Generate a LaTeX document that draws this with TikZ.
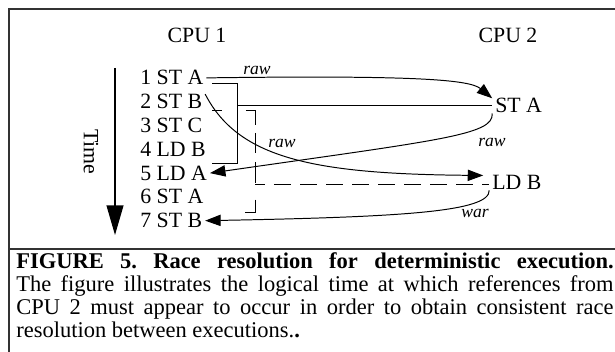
\documentclass[tikz,border=0pt]{standalone}
\usepackage{fontspec}
\setmainfont{Liberation Serif}
\usetikzlibrary{arrows.meta,calc,positioning}

\begin{document}
\begin{tikzpicture}[x=0.025cm, y=-0.025cm, every node/.style={inner sep=0pt},
  instr/.style={anchor=base west, inner xsep=2pt, font=\fontsize{15.5}{18}\selectfont},
  deplabel/.style={font=\fontsize{12.5}{14}\selectfont\itshape},
  dep/.style={line width=0.7pt, -{Triangle[length=11pt,width=8pt]}},
  frameline/.style={line width=1.5pt, black!80}]
  \useasboundingbox (0,0) rectangle (615,352);
  % frame and caption rule
  \draw[frameline] (9,352) -- (9,9) -- (615,9);
  \draw[frameline] (9,249) -- (615,249);
  % processors
  \node[anchor=base, font=\fontsize{15.5}{18}\selectfont] (cpu1) at (197,43) {CPU 1};
  \node[anchor=base, font=\fontsize{15.5}{18}\selectfont] (cpu2) at (508,43) {CPU 2};
  % logical time
  \coordinate (t0) at (115,68);
  \coordinate (t1) at (115,235);
  \draw[line width=0.8pt, -{Triangle[length=21pt,width=12pt]}] (t0) -- (t1);
  \node[rotate=-90, font=\fontsize{15.5}{18}\selectfont] (time) at (91,152) {Time};
  % CPU 1 references
  \node[instr] (i1) at (137.2,85) {1 ST A};
  \node[instr] (i2) at (137.2,108.8) {2 ST B};
  \node[instr] (i3) at (137.2,132.6) {3 ST C};
  \node[instr] (i4) at (137.2,156.4) {4 LD B};
  \node[instr] (i5) at (137.2,180.2) {5 LD A};
  \node[instr] (i6) at (137.2,204) {6 ST A};
  \node[instr] (i7) at (137.2,227.8) {7 ST B};
  % CPU 2 references
  \node[instr] (sta) at (492.2,113) {ST A};
  \node[instr] (ldb) at (489.2,190) {LD B};
  % where ST A may fall
  \draw[line width=0.7pt] (212,83) -- (237,83) -- (237,163) -- (212,163);
  \coordinate (stabr) at (237,105);
  \draw[line width=0.7pt] (stabr) -- (stabr -| sta.west);
  % where LD B may fall
  \draw[line width=0.7pt, dash pattern=on 7.1pt off 17pt on 17pt off 5.7pt on 14.2pt off 6.4pt on 14.9pt off 12pt on 15.6pt off 24pt]
    (212,110) -- (255,110) -- (255,212) -- (212,212);
  \coordinate (ldbbr) at (255,184);
  \draw[line width=0.7pt, dash pattern=on 12pt off 6.5pt, dash phase=5pt] (ldbbr) -- (ldbbr -| ldb.west);
  % dependences
  \draw[dep] (i1.east) .. controls (420,75) and (470,80) .. (sta.north west);
  \draw[dep] (i2.north east) .. controls (238,158) and (312,174) .. ($(ldb.north west)+(-6,0)$);
  \draw[dep] (sta.south west) .. controls (494,135) and (440,140) .. (i5.east);
  \draw[dep] (ldb.south west) .. controls (490,212) and (400,217) .. (i7.east);
  \node[deplabel] (raw1) at (257,70) {raw};
  \node[deplabel] (raw2) at (282,143) {raw};
  \node[deplabel] (raw3) at (492,142) {raw};
  \node[deplabel] (war) at (475,213) {war};
  % caption
  \node[anchor=base west, text width=14.93cm, align=justify, font=\fontsize{16}{16.3}\selectfont] (cap) at (16,269)
    {\frenchspacing\textbf{FIGURE 5. Race resolution for deterministic execution.}\linebreak
     The figure illustrates the logical time at which references from\linebreak
     CPU 2 must appear to occur in order to obtain consistent race\linebreak
     resolution between executions.\textbf{.}};
\end{tikzpicture}
\end{document}
